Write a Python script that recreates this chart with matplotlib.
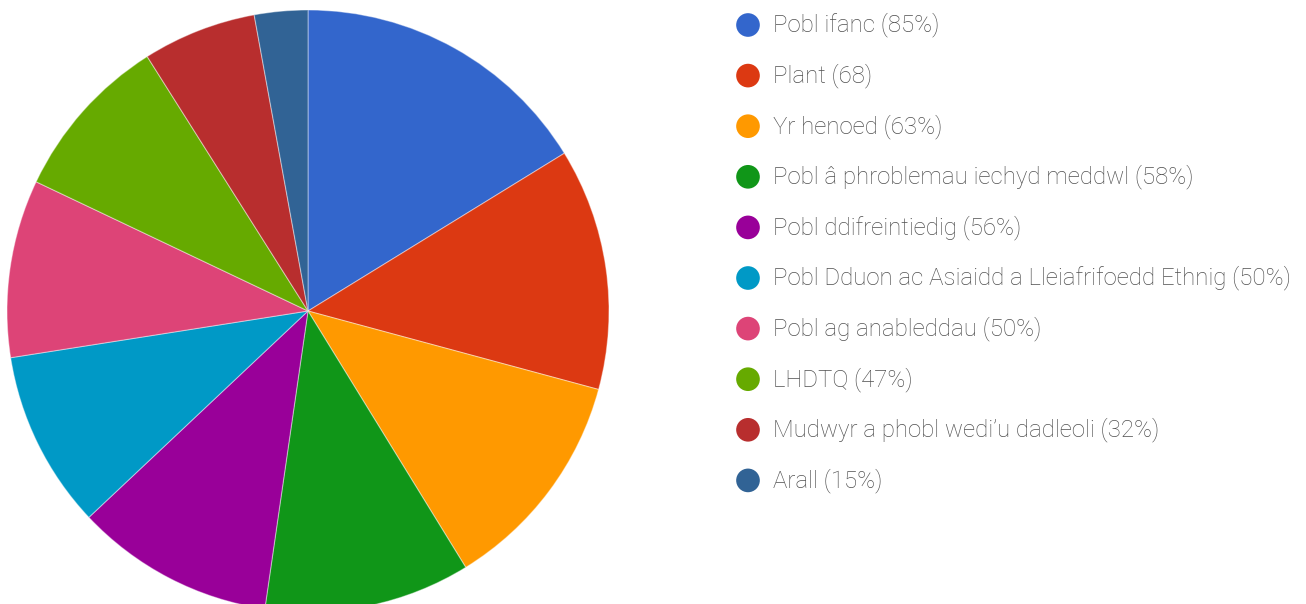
import matplotlib
matplotlib.use("Agg")
import matplotlib.pyplot as plt

labels = ["Pobl ifanc (85%)", "Plant (68)", "Yr henoed (63%)",
          "Pobl â phroblemau iechyd meddwl (58%)", "Pobl ddifreintiedig (56%)",
          "Pobl Dduon ac Asiaidd a Lleiafrifoedd Ethnig (50%)",
          "Pobl ag anableddau (50%)", "LHDTQ (47%)",
          "Mudwyr a phobl wedi\u2019u dadleoli (32%)", "Arall (15%)"]
values = [85, 68, 63, 58, 56, 50, 50, 47, 32, 15]
colors = ["#3366cc", "#dc3912", "#ff9900", "#109618", "#990099",
          "#0099c6", "#dd4477", "#66aa00", "#b82e2e", "#316395"]

W, H = 1306, 604
fig = plt.figure(figsize=(W / 100, H / 100), dpi=100)

# pie, centre (308, 311) px, radius 301 px -> runs off the bottom edge
cx, cy, r = 308, 311, 301
ax = fig.add_axes([(cx - r) / W, (H - cy - r) / H, 2 * r / W, 2 * r / H])
ax.pie(values, colors=colors, startangle=90, counterclock=False, radius=1,
       wedgeprops=dict(edgecolor=(1, 1, 1, 0.4), linewidth=0.8))
ax.set_xlim(-1, 1)
ax.set_ylim(-1, 1)
ax.set_aspect("equal")
ax.axis("off")

# legend drawn by hand
lg = fig.add_axes([0, 0, 1, 1])
lg.set_xlim(0, W)
lg.set_ylim(H, 0)
lg.axis("off")
y0, step = 25, 50.6
for i, (lab, col) in enumerate(zip(labels, colors)):
    y = y0 + i * step
    lg.scatter([748], [y], s=290, color=col, edgecolor="none")
    lg.text(773, y, lab, fontsize=17.3, family="Roboto", fontweight="light",
            color="#505050", va="center", ha="left")

fig.savefig("out.png", dpi=100)
